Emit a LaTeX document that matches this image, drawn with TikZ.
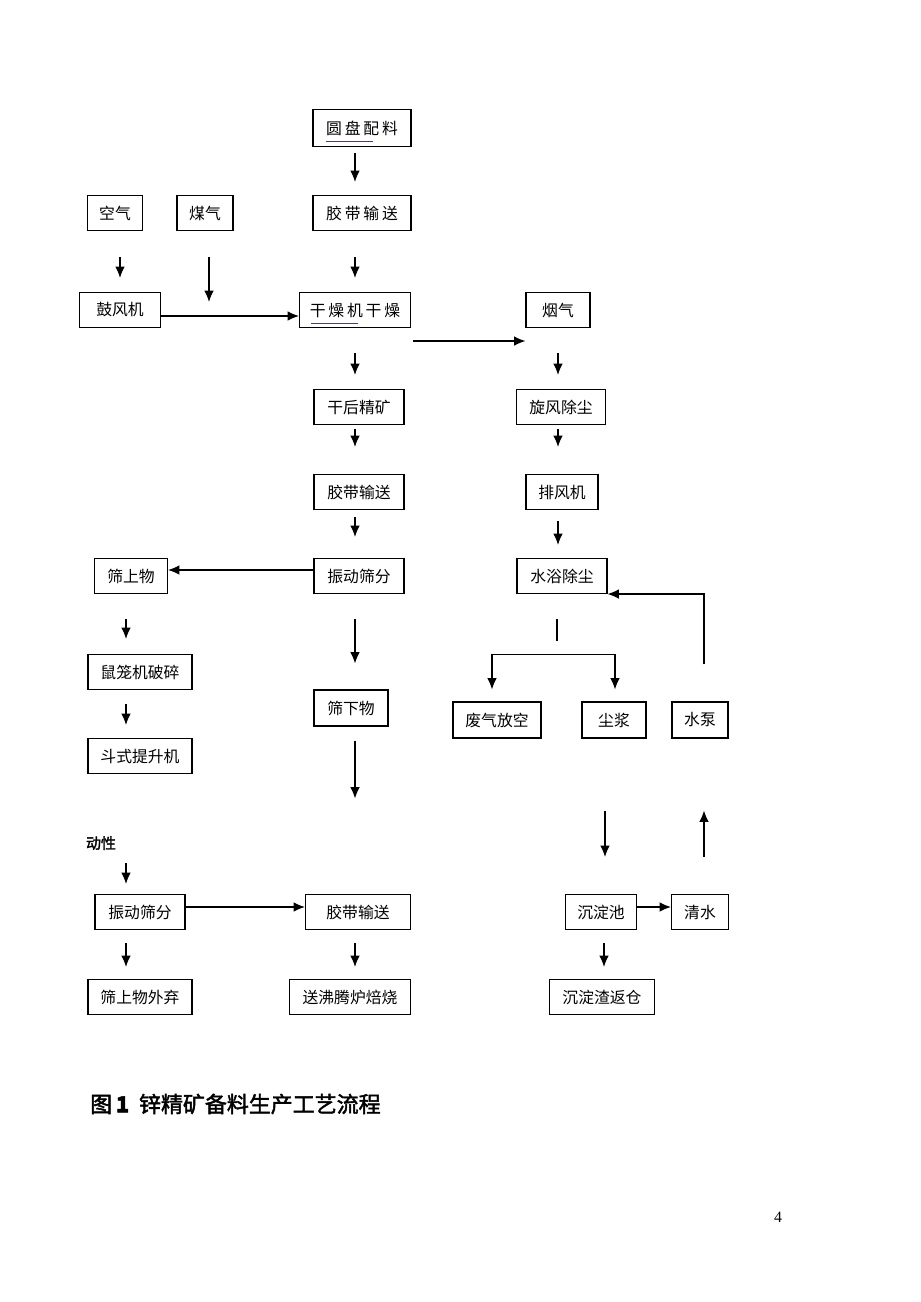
\documentclass[tikz,border=0pt]{standalone}
\usepackage{fontspec}
\setmainfont{Liberation Serif}
\newfontfamily\cjk{Noto Sans CJK SC}
\newfontfamily\cjksp[LetterSpace=18]{Noto Sans CJK SC}
\newfontfamily\cjkbold[FakeBold=2]{Noto Sans CJK SC}
\usetikzlibrary{arrows.meta,calc}
\definecolor{ulcol}{RGB}{80,60,110}
\tikzset{
	box/.style={draw, line width=0.6pt, minimum height=0.7cm, inner sep=0pt,
		font=\cjk\fontsize{9}{11}\selectfont},
	arr/.style={-{Latex[length=6.5pt,width=5.5pt]}, line width=0.75pt},
	ln/.style={line width=0.75pt},
}
\begin{document}
\begin{tikzpicture}[x=0.02cm, y=-0.02cm]
	\useasboundingbox (0,0) rectangle (920,1302);
	\node[box, minimum width=1.96cm, minimum height=0.74cm, font=\cjksp\fontsize{9}{11}\selectfont] (ypan) at (362,128) {圆盘配料};
	\node[box, minimum width=1.10cm] (kongqi) at (115,213) {空气};
	\node[box, minimum width=1.12cm] (meiqi) at (205,213) {煤气};
	\node[box, minimum width=1.96cm, font=\cjksp\fontsize{9}{11}\selectfont] (jdai1) at (362,213) {胶带输送};
	\node[box, minimum width=1.62cm] (gufeng) at (120,310) {鼓风机};
	\node[box, minimum width=2.22cm, font=\cjksp\fontsize{9}{11}\selectfont] (ganzao) at (355,310) {干燥机干燥};
	\node[box, minimum width=1.28cm] (yanqi) at (558,310) {烟气};
	\node[box, minimum width=1.80cm] (ganhou) at (359,407) {干后精矿};
	\node[box, minimum width=1.78cm] (xuanfeng) at (561,407) {旋风除尘};
	\node[box, minimum width=1.80cm] (jdai2) at (359,492) {胶带输送};
	\node[box, minimum width=1.44cm] (paifeng) at (562,492) {排风机};
	\node[box, minimum width=1.46cm] (shais) at (131,576) {筛上物};
	\node[box, minimum width=1.80cm] (zhend1) at (359,576) {振动筛分};
	\node[box, minimum width=1.80cm] (shuiyu) at (562,576) {水浴除尘};
	\node[box, minimum width=2.08cm] (shulong) at (140,672) {鼠笼机破碎};
	\node[box, minimum width=1.48cm, minimum height=0.72cm] (shaix) at (351,708) {筛下物};
	\node[box, minimum width=2.08cm] (doushi) at (140,756) {斗式提升机};
	\node[box, minimum width=1.76cm, minimum height=0.72cm] (feiqi) at (497,720) {废气放空};
	\node[box, minimum width=1.28cm, minimum height=0.72cm] (chenj) at (614,720) {尘浆};
	\node[box, minimum width=1.12cm, minimum height=0.72cm] (shuib) at (700,720) {水泵};
	\node[font=\cjkbold\fontsize{8.5}{10}\selectfont] (dongx) at (101,843) {动性};
	\node[box, minimum width=1.80cm] (zhend2) at (140,912) {振动筛分};
	\node[box, minimum width=2.10cm] (jdai3) at (358,912) {胶带输送};
	\node[box, minimum width=1.42cm] (chend) at (601,912) {沉淀池};
	\node[box, minimum width=1.14cm] (qings) at (700,912) {清水};
	\node[box, minimum width=2.08cm] (shaiw) at (140,997) {筛上物外弃};
	\node[box, minimum width=2.42cm] (feit) at (350,997) {送沸腾炉焙烧};
	\node[box, minimum width=2.10cm] (chenz) at (602,997) {沉淀渣返仓};
	\node[anchor=west, font=\cjkbold\fontsize{12.5}{14}\selectfont] (tuti) at (84,1104) {图\,\textbf{1}\ \ 锌精矿备料生产工艺流程};
	\node[font=\fontsize{9}{11}\selectfont] (yema) at (778,1217) {4};
	\draw[ulcol, line width=0.6pt] ($(ypan.south)+(-36,-6)$) -- ($(ypan.south)+(11,-6)$);
	\draw[ulcol, line width=0.6pt] ($(ganzao.south)+(-44,-5)$) -- ($(ganzao.south)+(3,-5)$);
	\draw[arr] ($(ypan.south)+(-7,6)$) -- ($(jdai1.north)+(-7,-13)$);
	\draw[arr] ($(kongqi.south)+(5,26)$) -- ($(gufeng.north)+(0,-14)$);
	\draw[arr] ($(meiqi.south)+(4,26)$) -- ($(meiqi.south)+(4,71)$);
	\draw[arr] ($(jdai1.south)+(-7,26)$) -- ($(ganzao.north)+(0,-14)$);
	\draw[arr] ($(gufeng.east)+(0,6)$) -- ($(ganzao.west)+(0,6)$);
	\draw[arr] ($(ganzao.south east)+(2,13)$) -- ($(yanqi.south west)+(0,13)$);
	\draw[arr] ($(ganzao.south)+(0,25)$) -- ($(ganhou.north)+(-4,-14)$);
	\draw[arr] ($(yanqi.south)+(0,25)$) -- ($(xuanfeng.north)+(-3,-14)$);
	\draw[arr] ($(ganhou.south)+(-4,4)$) -- ($(jdai2.north)+(-4,-27)$);
	\draw[arr] ($(xuanfeng.south)+(-3,4)$) -- ($(paifeng.north)+(-4,-27)$);
	\draw[arr] ($(jdai2.south)+(-4,7)$) -- ($(zhend1.north)+(-4,-21)$);
	\draw[arr] ($(paifeng.south)+(-4,11)$) -- ($(shuiyu.north)+(-4,-13)$);
	\draw[arr] ($(zhend1.west)+(0,-6)$) -- ($(shais.east)+(0,-6)$);
	\draw[arr] ($(shais.south)+(-5,25)$) -- ($(shulong.north)+(-14,-15)$);
	\draw[arr] ($(zhend1.south)+(-4,25)$) -- ($(shaix.north)+(4,-26)$);
	\draw[arr] ($(shulong.south)+(-14,14)$) -- ($(doushi.north)+(-14,-13)$);
	\draw[arr] ($(shaix.south)+(4,14)$) -- ($(shaix.south)+(4,72)$);
	\draw[ln] ($(shuiyu.south)+(-5,25)$) -- ($(shuiyu.south)+(-5,47)$);
	\draw[{Latex[length=6.5pt,width=5.5pt]}-{Latex[length=6.5pt,width=5.5pt]}, line width=0.75pt]
		($(feiqi.north)+(-5,-12)$) |- ($(chenj.north)+(1,-47)$) -- ($(chenj.north)+(1,-12)$);
	\draw[arr] ($(shuib.north)+(4,-37)$) |- (shuiyu.south east);
	\draw[arr] ($(chenj.south)+(-9,72)$) -- ($(chend.north)+(4,-37)$);
	\draw[arr] ($(qings.north)+(4,-37)$) -- ($(shuib.south)+(4,72)$);
	\draw[arr] ($(dongx.south)+(25,7)$) -- ($(zhend2.north)+(-14,-10)$);
	\draw[arr] ($(zhend2.east)+(0,-5)$) -- ($(jdai3.west)+(0,-5)$);
	\draw[arr] ($(zhend2.south)+(-14,13)$) -- ($(shaiw.north)+(-14,-12)$);
	\draw[arr] ($(jdai3.south)+(-3,13)$) -- ($(feit.north)+(5,-12)$);
	\draw[arr] ($(chend.east)+(0,-5)$) -- ($(qings.west)+(0,-5)$);
	\draw[arr] ($(chend.south)+(3,13)$) -- ($(chenz.north)+(2,-12)$);
\end{tikzpicture}
\end{document}
